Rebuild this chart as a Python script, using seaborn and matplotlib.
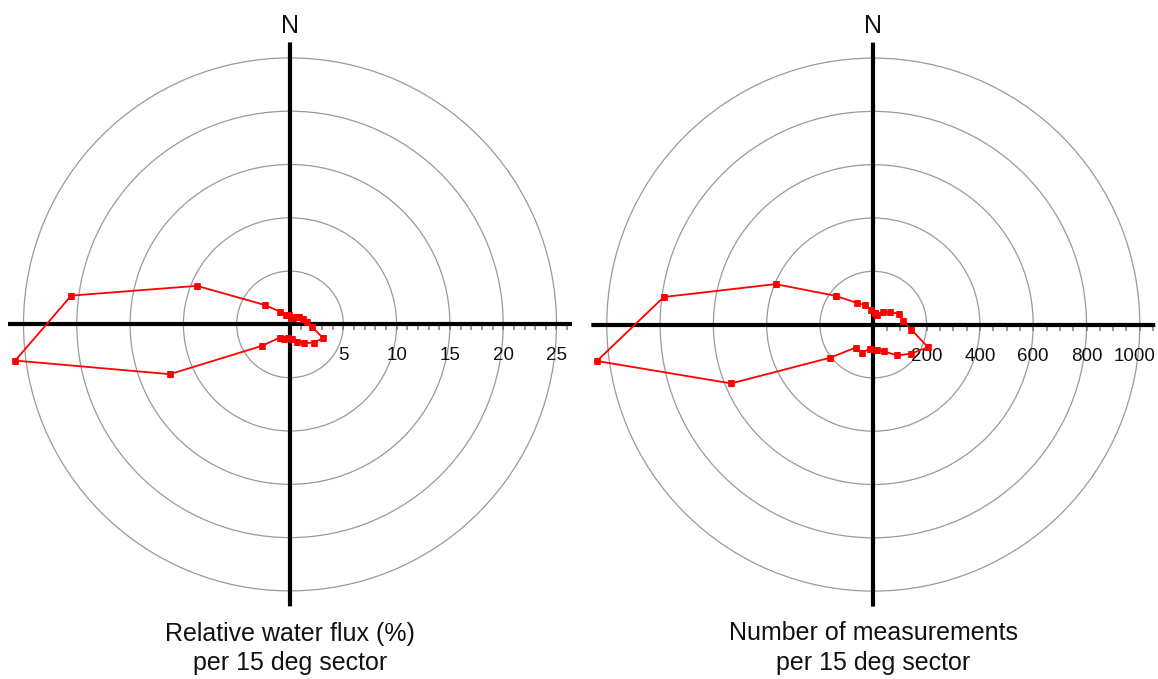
import numpy as np
import pandas as pd
import matplotlib
matplotlib.use("Agg")
import matplotlib.pyplot as plt
import matplotlib.transforms as mtransforms
import seaborn as sns

# ---- data -------------------------------------------------------------
# sector centres (deg, clockwise from north), 15 deg sectors
sector_deg = [7.5, 22.5, 37.5, 52.5, 67.5, 82.5, 97.5, 112.5,
              127.5, 142.5, 157.5, 172.5, 187.5, 202.5, 217.5, 232.5,
              247.5, 262.5, 277.5, 292.5, 307.5, 322.5, 337.5, 352.5]

# relative water flux (%) per sector
flux_pct = [0.6, 0.7, 0.9, 1.1, 1.35, 1.6, 2.1, 3.4,
            2.8, 2.2, 1.75, 1.35, 1.3, 1.45, 1.55, 3.3,
            12.2, 26.0, 20.7, 9.45, 3.0, 1.5, 1.0, 0.85]

# number of measurements per sector
n_meas = [44, 40, 58, 80, 103, 113, 144, 222,
          179, 146, 109, 98, 91, 114, 109, 204,
          577, 1046, 793, 397, 177, 103, 79, 57]

flux_rings = [5, 10, 15, 20, 25]
flux_ring_labels = ["5", "10", "15", "20", "25"]
meas_rings = [200, 400, 600, 800, 1000]
meas_ring_labels = ["200", "400", "600", "800", "1000"]

left_title = ["Relative water flux (%)", "per 15 deg sector"]
right_title = ["Number of measurements", "per 15 deg sector"]

# ---- style ------------------------------------------------------------
sns.set_theme(style="white")
plt.rcParams["font.family"] = ["Liberation Sans", "DejaVu Sans"]

W, H = 1158, 679
fig = plt.figure(figsize=(W / 100, H / 100), dpi=100)
fig.patch.set_facecolor("white")

HALF = 282.0        # px from centre to end of cross axes
R_OUTER_PX = 266.5  # px radius of outermost ring


def make_panel(cx, cy, values, rings, ring_labels, minor_step, title):
    rmax = rings[-1] * HALF / R_OUTER_PX
    rect = [(cx - HALF) / W, (H - cy - HALF) / H, 2 * HALF / W, 2 * HALF / H]
    ax = fig.add_axes(rect, projection="polar")
    ax.set_theta_zero_location("N")
    ax.set_theta_direction(-1)
    ax.set_facecolor("none")
    ax.spines["polar"].set_visible(False)
    ax.set_xticks([])
    ax.set_ylim(0, rmax)
    ax.set_yticks(rings)
    ax.set_yticklabels([])
    ax.yaxis.grid(True, color="#9a9a9a", lw=0.9)
    ax.xaxis.grid(False)

    # cross axes
    for ang in [0, np.pi / 2, np.pi, 3 * np.pi / 2]:
        ax.axvline(ang, color="black", lw=3.0, zorder=3)

    # minor ticks along east axis
    minor_r = np.arange(minor_step, rmax, minor_step)
    ax.plot(np.full(len(minor_r), np.pi / 2), minor_r, ls="none",
            marker=3, ms=4.2, mew=1.1, color="#7a7a7a", zorder=2,
            clip_on=False)

    # ring labels (shift the last one left if it would leave the figure)
    for r, lab in zip(rings, ring_labels):
        px = cx + r * R_OUTER_PX / rings[-1]
        half_w = 0.556 * 13.5 * 1.389 * len(lab) / 2
        dx = min(0.0, (W - 3) - (px + half_w))
        lab_tr = mtransforms.offset_copy(ax.transData, fig=fig, x=dx, y=-36,
                                         units="dots")
        ax.text(np.pi / 2, r, lab, transform=lab_tr, ha="center",
                va="baseline", fontsize=13.5, color="#111111", clip_on=False)

    # data polygon
    th = np.deg2rad(np.array(sector_deg, dtype=float))
    vals = np.array(values, dtype=float)
    df = pd.DataFrame({
        "theta": np.append(th, th[0] + 2 * np.pi),
        "value": np.append(vals, vals[0]),
    })
    sns.lineplot(data=df, x="theta", y="value", sort=False, estimator=None,
                 ax=ax, color="#ff0000", lw=1.3, marker="s", markersize=3.8,
                 markeredgecolor="#ff0000", markeredgewidth=0.5, zorder=5)
    ax.set_xlabel("")
    ax.set_ylabel("")
    ax.set_xticks([])
    ax.set_ylim(0, rmax)

    # N label
    fig.text(cx / W, 1 - 33 / H, "N", ha="center", va="baseline",
             fontsize=18, color="#111111")
    # bottom caption
    fig.text(cx / W, 1 - 640.5 / H, title[0], ha="center", va="baseline",
             fontsize=18, color="#111111")
    fig.text(cx / W, 1 - 670 / H, title[1], ha="center", va="baseline",
             fontsize=18, color="#111111")
    return ax


make_panel(290.0, 324.4, flux_pct, flux_rings, flux_ring_labels, 1,
           left_title)
make_panel(873.3, 324.6, n_meas, meas_rings, meas_ring_labels, 50,
           right_title)

fig.savefig("out.png", dpi=100, facecolor="white")
